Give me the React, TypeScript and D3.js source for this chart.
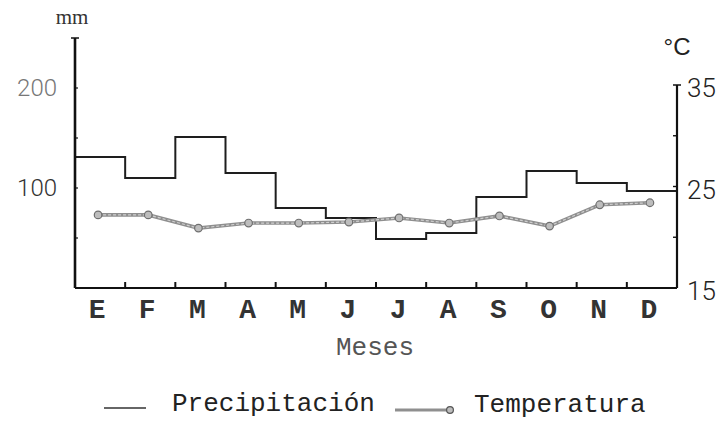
import { useEffect, useRef } from "react"
import * as d3 from "d3"

// monthly values
const months = ["E", "F", "M", "A", "M", "J", "J", "A", "S", "O", "N", "D"]
const precipitation = [131, 110, 151, 115, 80, 70, 49, 55, 91, 117, 105, 97]
const temperature = [22.2, 22.2, 20.9, 21.4, 21.4, 21.5, 21.9, 21.4, 22.1, 21.1, 23.2, 23.4]
const mmTicks = [100, 200]
const mmMinor = [50, 150]
const tempTicks = [15, 25, 35]
const tempMinor = [20, 30]

export default function App() {
    const ref = useRef<SVGSVGElement>(null)

    useEffect(() => {
        const svg = d3.select(ref.current)
        svg.selectAll("*").remove()

        const left = 75, right = 677, bottom = 288

        const x = d3.scaleBand<number>()
            .domain(d3.range(12))
            .range([left, right])

        const yP = d3.scaleLinear().domain([0, 250]).range([bottom, 38])
        const yT = d3.scaleLinear().domain([15, 35]).range([bottom, 85])

        const g = svg.append("g")

        // precipitation steps
        const stepPts: [number, number][] = precipitation.map((v, i) => [x(i)!, yP(v)])
        stepPts.push([right, yP(precipitation[precipitation.length - 1])])

        g.append("path")
            .attr("d", d3.line().curve(d3.curveStepAfter)(stepPts))
            .attr("fill", "none")
            .attr("stroke", "#1e1e1e")
            .attr("stroke-width", 2)

        // temperature line
        const tLine = d3.line<number>()
            .x((d, i) => x(i)! + x.bandwidth() / 2 - 2)
            .y((d) => yT(d))

        g.append("path")
            .attr("d", tLine(temperature))
            .attr("fill", "none")
            .attr("stroke", "#8f8f8f")
            .attr("stroke-width", 3.6)
        g.append("path")
            .attr("d", tLine(temperature))
            .attr("fill", "none")
            .attr("stroke", "#cfcfcf")
            .attr("stroke-width", 1.2)
            .attr("stroke-dasharray", "3 2")

        g.selectAll(".tdot")
            .data(temperature)
            .join("circle")
            .attr("class", "tdot")
            .attr("cx", (d, i) => x(i)! + x.bandwidth() / 2 - 2)
            .attr("cy", (d) => yT(d))
            .attr("r", 3.8)
            .attr("fill", "#bdbdbd")
            .attr("stroke", "#6f6f6f")
            .attr("stroke-width", 1.2)

        // axes
        const ax = svg.append("g").attr("stroke", "#111").attr("fill", "none")

        ax.append("line")
            .attr("x1", left).attr("x2", left)
            .attr("y1", yP(250)).attr("y2", bottom)
            .attr("stroke-width", 2.6)
        ax.append("line")
            .attr("x1", left - 4).attr("x2", left + 4)
            .attr("y1", yP(250)).attr("y2", yP(250))
            .attr("stroke-width", 1.5)

        ax.selectAll(".mminor")
            .data(mmMinor.concat(mmTicks))
            .join("line")
            .attr("x1", left).attr("x2", left + 3)
            .attr("y1", (d) => yP(d)).attr("y2", (d) => yP(d))
            .attr("stroke-width", 1.2)

        ax.append("line")
            .attr("x1", left).attr("x2", right)
            .attr("y1", bottom).attr("y2", bottom)
            .attr("stroke-width", 2)

        ax.selectAll(".xtick")
            .data(d3.range(1, 12))
            .join("line")
            .attr("x1", (d) => x(d)!).attr("x2", (d) => x(d)!)
            .attr("y1", bottom).attr("y2", bottom - 6)
            .attr("stroke-width", 2)

        ax.append("line")
            .attr("x1", right).attr("x2", right)
            .attr("y1", yT(35)).attr("y2", bottom)
            .attr("stroke-width", 2.2)
        ax.append("line")
            .attr("x1", right - 4).attr("x2", right + 4)
            .attr("y1", yT(35)).attr("y2", yT(35))
            .attr("stroke-width", 1.5)

        ax.selectAll(".tminor")
            .data(tempMinor.concat([25]))
            .join("line")
            .attr("x1", right - 4).attr("x2", right)
            .attr("y1", (d) => yT(d)).attr("y2", (d) => yT(d))
            .attr("stroke-width", 1.4)

        // axis labels
        svg.selectAll(".mmlab")
            .data(mmTicks)
            .join("text")
            .attr("x", 57)
            .attr("y", (d) => yP(d) + 8)
            .attr("text-anchor", "end")
            .attr("font-family", "Roboto")
            .attr("font-weight", 300)
            .attr("font-size", 24)
            .attr("fill", (d) => (d === 200 ? "#777" : "#333"))
            .text((d) => d)

        svg.selectAll(".tlab")
            .data(tempTicks)
            .join("text")
            .attr("x", 687)
            .attr("y", (d) => yT(d) + 12)
            .attr("font-family", "Roboto")
            .attr("font-weight", 300)
            .attr("font-size", 26)
            .attr("fill", "#222")
            .text((d) => d)

        svg.append("text")
            .attr("x", 72).attr("y", 24)
            .attr("text-anchor", "middle")
            .attr("font-family", "Liberation Serif")
            .attr("font-size", 21)
            .attr("fill", "#333")
            .text("mm")

        svg.append("text")
            .attr("x", 677).attr("y", 55)
            .attr("text-anchor", "middle")
            .attr("font-family", "Liberation Sans")
            .attr("font-size", 24)
            .attr("fill", "#222")
            .text("°C")

        svg.selectAll(".mlab")
            .data(months)
            .join("text")
            .attr("x", (d, i) => x(i)! + x.bandwidth() / 2 - 3)
            .attr("y", 318)
            .attr("text-anchor", "middle")
            .attr("font-family", "Liberation Mono")
            .attr("font-weight", "bold")
            .attr("font-size", 28)
            .attr("fill", "#333")
            .text((d) => d)

        svg.append("text")
            .attr("x", 375).attr("y", 355)
            .attr("text-anchor", "middle")
            .attr("font-family", "Liberation Mono")
            .attr("font-size", 26)
            .attr("fill", "#555")
            .text("Meses")

        // legend
        const lg = svg.append("g")
        lg.append("line")
            .attr("x1", 104).attr("x2", 146)
            .attr("y1", 408).attr("y2", 408)
            .attr("stroke", "#333").attr("stroke-width", 1.5)
        lg.append("text")
            .attr("x", 172).attr("y", 411)
            .attr("font-family", "Liberation Mono")
            .attr("font-size", 26)
            .attr("fill", "#222")
            .text("Precipitación")
        lg.append("line")
            .attr("x1", 395).attr("x2", 450)
            .attr("y1", 410).attr("y2", 410)
            .attr("stroke", "#8f8f8f").attr("stroke-width", 3)
        lg.append("circle")
            .attr("cx", 450).attr("cy", 410).attr("r", 3.4)
            .attr("fill", "#bdbdbd").attr("stroke", "#555").attr("stroke-width", 1.2)
        lg.append("text")
            .attr("x", 474).attr("y", 412)
            .attr("font-family", "Liberation Mono")
            .attr("font-size", 26)
            .attr("fill", "#222")
            .text("Temperatura")
    }, [])

    return (
        <svg
            ref={ref}
            width={722}
            height={421}
            style={{ position: "absolute", left: 0, top: 0, background: "#fff" }}
        />
    )
}
